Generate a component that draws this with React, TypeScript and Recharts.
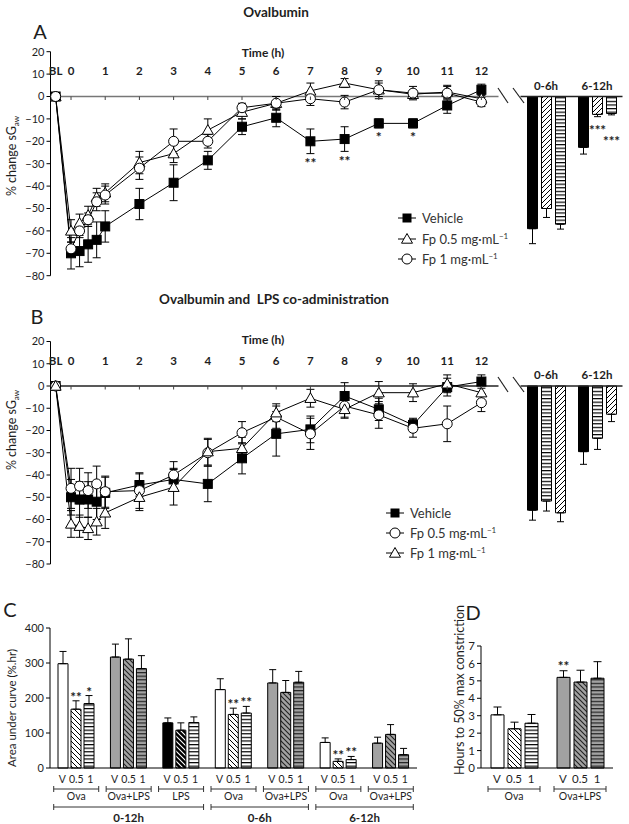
import React from 'react';
import { LineChart, Line, BarChart, Bar, XAxis, YAxis, ErrorBar, ReferenceLine, LabelList, Cell } from 'recharts';

const FONT = 'Lato, "Open Sans", "Liberation Sans", sans-serif';

// ---------------- Data ----------------
const timePoints = [-0.45, 0, 0.25, 0.5, 0.75, 1, 2, 3, 4, 5, 6, 7, 8, 9, 10, 11, 12];
const timeTicks = [-0.45, 0, 1, 2, 3, 4, 5, 6, 7, 8, 9, 10, 11, 12];
const timeTickLabels = ['BL', '0', '1', '2', '3', '4', '5', '6', '7', '8', '9', '10', '11', '12'];
const sgawTicks = [-80, -70, -60, -50, -40, -30, -20, -10, 0, 10, 20];

// Panel A (Ovalbumin)
const aVehicle = [0, -70, -69, -66, -64, -58, -48, -38.5, -28.5, -13.5, -9.5, -20, -19, -12, -12, -4, 3];
const aVehicleErr = [0, 7, 7, 8, 8, 7, 7, 8, 4, 3.5, 4, 5.5, 5.5, 2, 2, 3.5, 2.5];
const aVehicleSig = ['', '', '', '', '', '', '', '', '', '', '', '**', '**', '*', '*', '', ''];
const aFp05 = [0, -60, -56.5, -53, -45, -43, -29.5, -25.5, -15, -7, -3, 2.5, 6, 3, 1, 2, -1];
const aFp05Err = [0, 5, 4, 4, 4, 4, 5, 4, 5, 3, 3, 3.5, 2, 3, 2, 3, 2];
const aFp1 = [0, -68, -60, -55, -47, -44, -32, -20, -20, -5, -3, -1, -2.5, 3, 1.5, 1.5, -2.5];
const aFp1Err = [0, 3, 3, 3, 4, 4, 5, 5.5, 3, 2, 3, 3, 3, 4, 3, 3, 2];

const periods = ['0-6h', '6-12h'];
const aBarVehicle = [-59, -22.7];
const aBarVehicleErr = [6.7, 3];
const aBarFp05 = [-50, -8];
const aBarFp05Err = [4, 1];
const aBarFp05Sig = ['', '***'];
const aBarFp1 = [-57, -7.6];
const aBarFp1Err = [2.2, 0.6];
const aBarFp1Sig = ['', '***'];

// Panel B (Ovalbumin and LPS)
const bVehicle = [0, -50, -51, -51, -52, -48, -44.5, -42, -44, -32.5, -21.5, -19.5, -4.5, -10.5, -17.5, -0.5, 2];
const bVehicleErr = [0, 8, 8, 8, 8, 7, 5, 5, 8, 7, 10, 6, 6, 5, 3, 4, 3];
const bFp05 = [0, -46, -45, -47, -44, -47.5, -47, -40, -30, -21, -14, -21.5, -9, -13, -19, -17, -7.5];
const bFp05Err = [0, 9, 8, 8, 8, 7, 8, 6, 6, 5, 5, 7, 5, 6, 4, 8, 4];
const bFp1 = [0, -62, -63, -64, -61, -57, -50, -45.5, -29.5, -28, -12, -5.5, -10.5, -3, -3, 1, -3];
const bFp1Err = [0, 6, 5, 5, 6, 7, 6, 8, 6, 5, 4, 4, 4, 5, 4, 4, 4];

const bBarVehicle = [-55.8, -29.5];
const bBarVehicleErr = [4.5, 5.7];
const bBarFp05 = [-51.7, -23.5];
const bBarFp05Err = [4.5, 5];
const bBarFp1 = [-57, -12.7];
const bBarFp1Err = [4, 3.3];

// Panel C (AUC)
const aucCats = ['Ova 0-12h', 'Ova+LPS 0-12h', 'LPS 0-12h', 'Ova 0-6h', 'Ova+LPS 0-6h', 'Ova 6-12h', 'Ova+LPS 6-12h'];
const aucGroups = ['Ova', 'Ova+LPS', 'LPS', 'Ova', 'Ova+LPS', 'Ova', 'Ova+LPS'];
const aucPeriods = ['0-12h', '0-12h', '0-12h', '0-6h', '0-6h', '6-12h', '6-12h'];
const aucV = [298, 317, 129, 224, 243, 73, 71];
const aucVErr = [35, 37, 14, 31, 38, 13, 17];
const aucF05 = [168, 311, 108, 153, 216, 19, 96];
const aucF05Err = [24, 58, 21, 18, 34, 7, 28];
const aucF05Sig = ['**', '', '', '**', '', '**', ''];
const aucF1 = [184, 284, 130, 157, 245, 24, 38];
const aucF1Err = [23, 37, 16, 19, 31, 9, 18];
const aucF1Sig = ['*', '', '', '**', '', '**', ''];
const aucTicks = [0, 100, 200, 300, 400];
const doseLabels = ['V', '0.5', '1'];

// Panel D (time to 50% max constriction)
const dCats = ['Ova', 'Ova+LPS'];
const dV = [3.05, 5.2];
const dVErr = [0.45, 0.38];
const dVSig = ['', '**'];
const dF05 = [2.25, 4.93];
const dF05Err = [0.38, 0.68];
const dF1 = [2.57, 5.15];
const dF1Err = [0.5, 0.95];
const dTicks = [0, 1, 2, 3, 4, 5, 6, 7];

// ---------------- Rows ----------------
const aRows = timePoints.map((t, i) => ({
  t, v: aVehicle[i], vErr: aVehicleErr[i], vSig: aVehicleSig[i],
  f05: aFp05[i], f05Err: aFp05Err[i], f1: aFp1[i], f1Err: aFp1Err[i],
}));
const bRows = timePoints.map((t, i) => ({
  t, v: bVehicle[i], vErr: bVehicleErr[i],
  f05: bFp05[i], f05Err: bFp05Err[i], f1: bFp1[i], f1Err: bFp1Err[i],
}));
const aBarRows = periods.map((p, i) => ({
  p, v: aBarVehicle[i], vErr: [aBarVehicleErr[i], 0],
  f05: aBarFp05[i], f05Err: [aBarFp05Err[i], 0], f05Sig: aBarFp05Sig[i],
  f1: aBarFp1[i], f1Err: [aBarFp1Err[i], 0], f1Sig: aBarFp1Sig[i],
}));
const bBarRows = periods.map((p, i) => ({
  p, v: bBarVehicle[i], vErr: [bBarVehicleErr[i], 0],
  f05: bBarFp05[i], f05Err: [bBarFp05Err[i], 0],
  f1: bBarFp1[i], f1Err: [bBarFp1Err[i], 0],
}));
const aucRows = aucCats.map((c, i) => ({
  cat: c, v: aucV[i], vErr: [0, aucVErr[i]],
  f05: aucF05[i], f05Err: [0, aucF05Err[i]], f05Sig: aucF05Sig[i],
  f1: aucF1[i], f1Err: [0, aucF1Err[i]], f1Sig: aucF1Sig[i],
}));
const dRows = dCats.map((c, i) => ({
  cat: c, v: dV[i], vErr: [0, dVErr[i]], vSig: dVSig[i],
  f05: dF05[i], f05Err: [0, dF05Err[i]], f1: dF1[i], f1Err: [0, dF1Err[i]],
}));

// ---------------- Styles / layout ----------------
const W = 629;
const PANEL_H = 300;
const AX_H = 20;
const LINE_LEFT = 50.5;
const LINE_RIGHT = 498.5;
const BAR_LEFT = 520.5;
const BAR_RIGHT = 622.5;
const GRAY = '#a2a2a2';
const TEXT = '#1e1e1e';

const groupFill: Record<string, { v: string; f05: string; f1: string }> = {
  'Ova': { v: '#fff', f05: 'url(#dbw)', f1: 'url(#hsw)' },
  'Ova+LPS': { v: GRAY, f05: 'url(#dbg)', f1: 'url(#hsg)' },
  'LPS': { v: '#000', f05: 'url(#dbb)', f1: 'url(#hsw)' },
};

const fmtMinus = (v: number) => String(v).replace('-', '\u2212');

function renderDot(shape: string) {
  return (props: any) => {
    const { cx, cy, index } = props;
    const k = `dot-${shape}-${index}`;
    if (cx == null || cy == null) return <g key={k} />;
    if (shape === 'square') return <rect key={k} x={cx - 4.5} y={cy - 4.5} width={9} height={9} fill="#000" stroke="#000" />;
    if (shape === 'triangle') return <path key={k} d={`M${cx},${cy - 5.5}L${cx + 5.5},${cy + 4.2}L${cx - 5.5},${cy + 4.2}Z`} fill="#fff" stroke="#000" strokeWidth={1} />;
    return <circle key={k} cx={cx} cy={cy} r={5} fill="#fff" stroke="#000" strokeWidth={1} />;
  };
}

function starContent(errs: number[], pxPerUnit: number, dir: number, offset: number, fontSize = 13.5) {
  return (props: any) => {
    const { value, index } = props;
    if (!value) return null;
    const vb = props.viewBox && typeof props.viewBox.x === 'number' ? props.viewBox : props;
    const w = vb.width || 0;
    const h = vb.height || 0;
    const cx = vb.x + w / 2;
    const e = (typeof index === 'number' ? errs[index] || 0 : 0) * pxPerUnit;
    const y = dir > 0 ? Math.min(vb.y, vb.y + h) - e - offset : Math.max(vb.y, vb.y + h) + e + offset;
    return (
      <text key={`star-${index}`} x={cx} y={y} textAnchor="middle" fontFamily={FONT} fontWeight={700} fontSize={fontSize} fill={TEXT}>
        {value}
      </text>
    );
  };
}

function Patterns() {
  return (
    <svg width={0} height={0} style={{ position: 'absolute' }}>
      <defs>
        <pattern id="dfw" patternUnits="userSpaceOnUse" width={5} height={5}>
          <rect width={5} height={5} fill="#fff" />
          <path d="M-1,1L1,-1M0,5L5,0M4,6L6,4" stroke="#000" strokeWidth={1} />
        </pattern>
        <pattern id="dbw" patternUnits="userSpaceOnUse" width={5} height={5}>
          <rect width={5} height={5} fill="#fff" />
          <path d="M-1,4L1,6M0,0L5,5M4,-1L6,1" stroke="#000" strokeWidth={1} />
        </pattern>
        <pattern id="dbg" patternUnits="userSpaceOnUse" width={5} height={5}>
          <rect width={5} height={5} fill={GRAY} />
          <path d="M-1,4L1,6M0,0L5,5M4,-1L6,1" stroke="#222" strokeWidth={1.1} />
        </pattern>
        <pattern id="dbb" patternUnits="userSpaceOnUse" width={5} height={5}>
          <rect width={5} height={5} fill="#000" />
          <path d="M-1,4L1,6M0,0L5,5M4,-1L6,1" stroke="#fff" strokeWidth={1.1} />
        </pattern>
        <pattern id="hsw" patternUnits="userSpaceOnUse" width={4} height={3.6}>
          <rect width={4} height={3.6} fill="#fff" />
          <rect width={4} height={1.2} fill="#000" />
        </pattern>
        <pattern id="hsg" patternUnits="userSpaceOnUse" width={4} height={3.6}>
          <rect width={4} height={3.6} fill={GRAY} />
          <rect width={4} height={1.2} fill="#222" />
        </pattern>
      </defs>
    </svg>
  );
}

function Txt({ x, y, size, bold, children }: any) {
  return (
    <div style={{ position: 'absolute', left: x, top: y, transform: 'translate(-50%, -50%)', fontSize: size, fontWeight: bold ? 700 : 400, lineHeight: 1, whiteSpace: 'nowrap', color: TEXT, fontFamily: FONT }}>
      {children}
    </div>
  );
}

function RotTxt({ x, y, size, children }: any) {
  return (
    <div style={{ position: 'absolute', left: x, top: y, transform: 'translate(-50%, -50%) rotate(-90deg)', fontSize: size, lineHeight: 1, whiteSpace: 'nowrap', color: TEXT, fontFamily: FONT }}>
      {children}
    </div>
  );
}

function LegendItem({ x, y, shape, children }: any) {
  const marker =
    shape === 'square' ? <rect x={5.5} y={3.5} width={9} height={9} fill="#000" /> :
    shape === 'triangle' ? <path d="M10,2.5L15.5,12.2L4.5,12.2Z" fill="#fff" stroke="#000" /> :
    <circle cx={10} cy={8} r={5} fill="#fff" stroke="#000" />;
  return (
    <div style={{ position: 'absolute', left: x - 10, top: y - 8, height: 16, display: 'flex', alignItems: 'center', whiteSpace: 'nowrap', fontFamily: FONT }}>
      <svg width={20} height={16}>
        <line x1={1} x2={19} y1={8} y2={8} stroke="#000" />
        {marker}
      </svg>
      <span style={{ marginLeft: 5, fontSize: 13, color: '#333' }}>{children}</span>
    </div>
  );
}

const mgml = (dose: string) => (
  <span>Fp {dose} mg·mL<sup style={{ fontSize: 8 }}>−1</sup></span>
);

function Timecourse({ top, plotTop, plotBottom, rows, series, zeroColor }: any) {
  const zeroY = plotTop + (plotBottom - plotTop) * 0.2;
  const ppu = (plotBottom - plotTop) / 100;
  const TimeTick = (p: any) => {
    const i = timeTicks.indexOf(p.payload.value);
    return (
      <g>
        <text x={p.x} y={plotTop + 23} textAnchor="middle" fontFamily={FONT} fontWeight={700} fontSize={11.5} fill={TEXT}>
          {timeTickLabels[i]}
        </text>
        {i > 0 && <line x1={p.x} x2={p.x} y1={zeroY} y2={zeroY + 3.5} stroke="#444" />}
      </g>
    );
  };
  return (
    <div style={{ position: 'absolute', left: 0, top }}>
      <LineChart width={W} height={PANEL_H} data={rows} style={{ overflow: 'visible' }}
        margin={{ top: plotTop - AX_H, right: W - LINE_RIGHT, bottom: PANEL_H - plotBottom, left: LINE_LEFT - 40 }}>
        <XAxis type="number" dataKey="t" domain={[-0.6, 12.5]} ticks={timeTicks} orientation="top" height={AX_H}
          axisLine={false} tickLine={false} interval={0} tick={TimeTick} allowDataOverflow />
        <YAxis type="number" domain={[-80, 20]} ticks={sgawTicks} width={40} interval={0} tickSize={4}
          axisLine={{ stroke: '#000' }} tickLine={{ stroke: '#000' }} tickFormatter={fmtMinus}
          tick={{ fontSize: 11, fill: TEXT, fontFamily: FONT }} allowDataOverflow />
        <ReferenceLine y={0} stroke={zeroColor} strokeWidth={1.3} />
        {series.map((s: any) => (
          <Line key={s.key} type="linear" dataKey={s.key} stroke="#000" strokeWidth={1} dot={renderDot(s.shape)}
            activeDot={false} isAnimationActive={false}>
            <ErrorBar dataKey={s.errKey} width={4} stroke="#000" strokeWidth={1} direction="y" />
            {s.sigKey && <LabelList dataKey={s.sigKey} content={starContent(s.errs, ppu, -1, 14.5, 14)} />}
          </Line>
        ))}
      </LineChart>
    </div>
  );
}

function PeriodBars({ top, plotTop, plotBottom, rows, fills, zeroColor, sig }: any) {
  const zeroY = plotTop + (plotBottom - plotTop) * 0.2;
  const ppu = (plotBottom - plotTop) / 100;
  const PTick = (p: any) => (
    <text x={p.x} y={zeroY - 7} textAnchor="middle" fontFamily={FONT} fontWeight={700} fontSize={11.5} fill={TEXT}>
      {p.payload.value}
    </text>
  );
  return (
    <div style={{ position: 'absolute', left: 0, top }}>
      <BarChart width={W} height={PANEL_H} data={rows} barSize={10} barGap={4} style={{ overflow: 'visible' }}
        margin={{ top: plotTop - AX_H, right: W - BAR_RIGHT, bottom: PANEL_H - plotBottom, left: BAR_LEFT }}>
        <XAxis dataKey="p" orientation="top" height={AX_H} axisLine={false} tickLine={false} interval={0} tick={PTick} />
        <YAxis hide type="number" domain={[-80, 20]} allowDataOverflow />
        <ReferenceLine y={0} stroke={zeroColor} strokeWidth={1.3} />
        <Bar dataKey="v" fill={fills[0]} stroke="#000" strokeWidth={1} isAnimationActive={false}>
          <ErrorBar dataKey="vErr" width={3.5} stroke="#000" strokeWidth={1} direction="y" />
        </Bar>
        <Bar dataKey="f05" fill={fills[1]} stroke="#000" strokeWidth={1} isAnimationActive={false}>
          <ErrorBar dataKey="f05Err" width={3.5} stroke="#000" strokeWidth={1} direction="y" />
          {sig && <LabelList dataKey="f05Sig" content={starContent(aBarFp05Err, ppu, -1, 18)} />}
        </Bar>
        <Bar dataKey="f1" fill={fills[2]} stroke="#000" strokeWidth={1} isAnimationActive={false}>
          <ErrorBar dataKey="f1Err" width={3.5} stroke="#000" strokeWidth={1} direction="y" />
          {sig && <LabelList dataKey="f1Sig" content={starContent(aBarFp1Err, ppu, -1, 31)} />}
        </Bar>
      </BarChart>
    </div>
  );
}

// Panel C layout (local chart coords)
const C_W = 430, C_H = 224, C_TOP = 28, C_XH = 56, C_LEFT = 50, C_RIGHT = 417;
const C_BOTTOM = C_H - C_XH;
const C_BW = (C_RIGHT - C_LEFT) / aucCats.length;
const C_PPU = (C_BOTTOM - C_TOP) / 400;

function AucTick(p: any) {
  const i = aucCats.indexOf(p.payload.value);
  const x = p.x;
  const b = C_BOTTOM;
  const first = i === 0 || aucPeriods[i] !== aucPeriods[i - 1];
  const count = aucPeriods.filter((q) => q === aucPeriods[i]).length;
  const px1 = x - 22.5;
  const px2 = x + (count - 1) * C_BW + 22.5;
  return (
    <g fontFamily={FONT} fill={TEXT}>
      {doseLabels.map((d, j) => (
        <text key={d} x={x + (j - 1) * 14} y={b + 15} textAnchor="middle" fontSize={10.5}>{d}</text>
      ))}
      <line x1={x - 22.5} x2={x + 22.5} y1={b + 21} y2={b + 21} stroke="#333" />
      <line x1={x - 22.5} x2={x - 22.5} y1={b + 18} y2={b + 24} stroke="#333" />
      <line x1={x + 22.5} x2={x + 22.5} y1={b + 18} y2={b + 24} stroke="#333" />
      <text x={x} y={b + 32} textAnchor="middle" fontSize={10.5}>{aucGroups[i]}</text>
      {first && (
        <g>
          <line x1={px1} x2={px2} y1={b + 39} y2={b + 39} stroke="#333" />
          <line x1={px1} x2={px1} y1={b + 36} y2={b + 42} stroke="#333" />
          <line x1={px2} x2={px2} y1={b + 36} y2={b + 42} stroke="#333" />
          <text x={(px1 + px2) / 2} y={b + 54} textAnchor="middle" fontSize={11.5} fontWeight={700}>{aucPeriods[i]}</text>
        </g>
      )}
    </g>
  );
}

// Panel D layout
const D_W = 199, D_H = 224, D_TOP = 46, D_XH = 56, D_LEFT = 51, D_RIGHT = 183;
const D_BOTTOM = D_H - D_XH;
const D_PPU = (D_BOTTOM - D_TOP) / 7;

function DTick(p: any) {
  const i = dCats.indexOf(p.payload.value);
  const x = p.x;
  const b = D_BOTTOM;
  return (
    <g fontFamily={FONT} fill={TEXT}>
      {doseLabels.map((d, j) => (
        <text key={d} x={x + (j - 1) * 17} y={b + 15} textAnchor="middle" fontSize={11.5}>{d}</text>
      ))}
      <line x1={x - 26} x2={x + 26} y1={b + 21} y2={b + 21} stroke="#333" />
      <line x1={x - 26} x2={x - 26} y1={b + 18} y2={b + 24} stroke="#333" />
      <line x1={x + 26} x2={x + 26} y1={b + 18} y2={b + 24} stroke="#333" />
      <text x={x} y={b + 32} textAnchor="middle" fontSize={10.5}>{dCats[i]}</text>
    </g>
  );
}

export default function App() {
  const aSeries = [
    { key: 'v', errKey: 'vErr', sigKey: 'vSig', errs: aVehicleErr, shape: 'square' },
    { key: 'f05', errKey: 'f05Err', shape: 'triangle' },
    { key: 'f1', errKey: 'f1Err', shape: 'circle' },
  ];
  const bSeries = [
    { key: 'v', errKey: 'vErr', shape: 'square' },
    { key: 'f05', errKey: 'f05Err', shape: 'circle' },
    { key: 'f1', errKey: 'f1Err', shape: 'triangle' },
  ];
  return (
    <div style={{ position: 'absolute', left: 0, top: 0, width: W, height: 824, background: '#fff', overflow: 'hidden', fontFamily: FONT }}>
      <Patterns />

      {/* Panel A */}
      <Timecourse top={0} plotTop={51.7} plotBottom={275.7} rows={aRows} series={aSeries} zeroColor="#777" />
      <PeriodBars top={0} plotTop={51.7} plotBottom={275.7} rows={aBarRows} fills={['#000', 'url(#dfw)', 'url(#hsw)']} zeroColor="#222" sig />
      <Txt x={40} y={31} size={20}>A</Txt>
      <Txt x={276} y={13} size={13.5} bold>Ovalbumin</Txt>
      <Txt x={263} y={53} size={12} bold>Time (h)</Txt>
      <RotTxt x={13} y={156} size={12.5}>% change sG<sub style={{ fontSize: 8 }}>aw</sub></RotTxt>
      <LegendItem x={407} y={218} shape="square">Vehicle</LegendItem>
      <LegendItem x={407} y={239} shape="triangle">{mgml('0.5')}</LegendItem>
      <LegendItem x={407} y={259} shape="circle">{mgml('1')}</LegendItem>

      {/* Panel B */}
      <Timecourse top={290} plotTop={51.5} plotBottom={274} rows={bRows} series={bSeries} zeroColor="#222" />
      <PeriodBars top={290} plotTop={51.5} plotBottom={274} rows={bBarRows} fills={['#000', 'url(#hsw)', 'url(#dfw)']} zeroColor="#222" />
      <Txt x={37} y={316} size={20}>B</Txt>
      <Txt x={274} y={300} size={13.5} bold>Ovalbumin and&nbsp; LPS co-administration</Txt>
      <Txt x={263} y={340} size={12} bold>Time (h)</Txt>
      <RotTxt x={13} y={430} size={12.5}>% change sG<sub style={{ fontSize: 8 }}>aw</sub></RotTxt>
      <LegendItem x={395} y={513} shape="square">Vehicle</LegendItem>
      <LegendItem x={395} y={533} shape="circle">{mgml('0.5')}</LegendItem>
      <LegendItem x={395} y={553} shape="triangle">{mgml('1')}</LegendItem>

      {/* Panel C */}
      <div style={{ position: 'absolute', left: 0, top: 600 }}>
        <BarChart width={C_W} height={C_H} data={aucRows} barSize={10} barGap={3} style={{ overflow: 'visible' }}
          margin={{ top: C_TOP, right: C_W - C_RIGHT, bottom: 0, left: C_LEFT - 40 }}>
          <XAxis dataKey="cat" height={C_XH} interval={0} tickLine={false} axisLine={{ stroke: '#000' }} tick={AucTick} />
          <YAxis type="number" domain={[0, 400]} ticks={aucTicks} width={40} interval={0} tickSize={4}
            axisLine={{ stroke: '#000' }} tickLine={{ stroke: '#000' }} tick={{ fontSize: 11, fill: TEXT, fontFamily: FONT }} />
          <Bar dataKey="v" stroke="#000" strokeWidth={1} isAnimationActive={false}>
            {aucRows.map((r, i) => <Cell key={r.cat} fill={groupFill[aucGroups[i]].v} />)}
            <ErrorBar dataKey="vErr" width={3.5} stroke="#000" strokeWidth={1} direction="y" />
          </Bar>
          <Bar dataKey="f05" stroke="#000" strokeWidth={1} isAnimationActive={false}>
            {aucRows.map((r, i) => <Cell key={r.cat} fill={groupFill[aucGroups[i]].f05} />)}
            <ErrorBar dataKey="f05Err" width={3.5} stroke="#000" strokeWidth={1} direction="y" />
            <LabelList dataKey="f05Sig" content={starContent(aucF05Err, C_PPU, 1, -1)} />
          </Bar>
          <Bar dataKey="f1" stroke="#000" strokeWidth={1} isAnimationActive={false}>
            {aucRows.map((r, i) => <Cell key={r.cat} fill={groupFill[aucGroups[i]].f1} />)}
            <ErrorBar dataKey="f1Err" width={3.5} stroke="#000" strokeWidth={1} direction="y" />
            <LabelList dataKey="f1Sig" content={starContent(aucF1Err, C_PPU, 1, -1)} />
          </Bar>
        </BarChart>
      </div>
      <Txt x={10} y={609} size={20}>C</Txt>
      <RotTxt x={12} y={708} size={11.5}>Area under curve (%.hr)</RotTxt>

      {/* Panel D */}
      <div style={{ position: 'absolute', left: 430, top: 600 }}>
        <BarChart width={D_W} height={D_H} data={dRows} barSize={13} barGap={4} style={{ overflow: 'visible' }}
          margin={{ top: D_TOP, right: D_W - D_RIGHT, bottom: 0, left: D_LEFT - 40 }}>
          <XAxis dataKey="cat" height={D_XH} interval={0} tickLine={false} axisLine={{ stroke: '#000' }} tick={DTick} />
          <YAxis type="number" domain={[0, 7]} ticks={dTicks} width={40} interval={0} tickSize={4}
            axisLine={{ stroke: '#000' }} tickLine={{ stroke: '#000' }} tick={{ fontSize: 11.5, fill: TEXT, fontFamily: FONT }} />
          <Bar dataKey="v" stroke="#000" strokeWidth={1} isAnimationActive={false}>
            {dRows.map((r, i) => <Cell key={r.cat} fill={groupFill[dCats[i]].v} />)}
            <ErrorBar dataKey="vErr" width={4} stroke="#000" strokeWidth={1} direction="y" />
            <LabelList dataKey="vSig" content={starContent(dVErr, D_PPU, 1, 0)} />
          </Bar>
          <Bar dataKey="f05" stroke="#000" strokeWidth={1} isAnimationActive={false}>
            {dRows.map((r, i) => <Cell key={r.cat} fill={groupFill[dCats[i]].f05} />)}
            <ErrorBar dataKey="f05Err" width={4} stroke="#000" strokeWidth={1} direction="y" />
          </Bar>
          <Bar dataKey="f1" stroke="#000" strokeWidth={1} isAnimationActive={false}>
            {dRows.map((r, i) => <Cell key={r.cat} fill={groupFill[dCats[i]].f1} />)}
            <ErrorBar dataKey="f1Err" width={4} stroke="#000" strokeWidth={1} direction="y" />
          </Bar>
        </BarChart>
      </div>
      <Txt x={473} y={612} size={20}>D</Txt>
      <RotTxt x={460} y={690} size={12.5}>Hours to 50% max constriction</RotTxt>

      {/* axis break marks */}
      <svg width={W} height={824} style={{ position: 'absolute', left: 0, top: 0, pointerEvents: 'none' }}>
        <line x1={498} y1={88} x2={508} y2={103} stroke="#222" strokeWidth={1.2} />
        <line x1={513} y1={88} x2={524} y2={103} stroke="#222" strokeWidth={1.2} />
        <line x1={498} y1={377} x2={508} y2={392} stroke="#222" strokeWidth={1.2} />
        <line x1={513} y1={377} x2={524} y2={392} stroke="#222" strokeWidth={1.2} />
      </svg>
    </div>
  );
}
